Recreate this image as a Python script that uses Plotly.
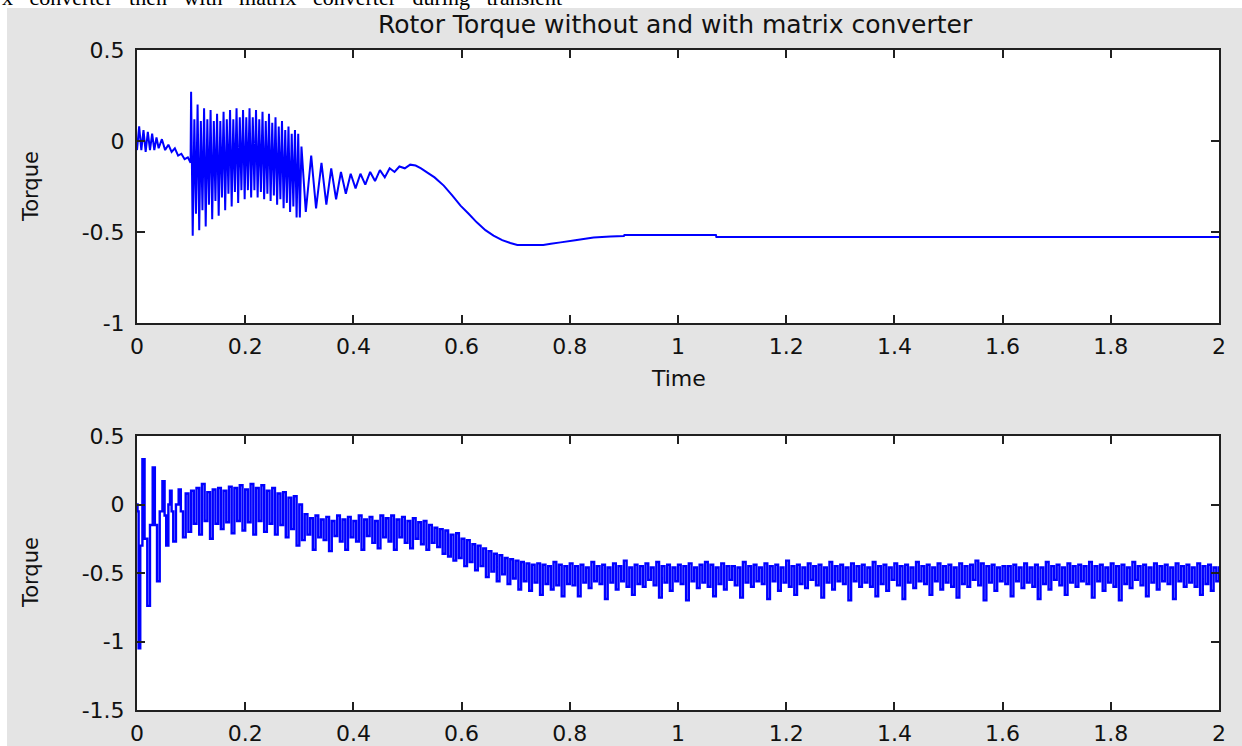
import plotly.graph_objects as go

W, H = 1242, 746

# ---------------- data ----------------
# upper plot: rotor torque without matrix converter
top_early_ms = [0, 4, 8, 12, 16, 20, 24, 28, 32, 36, 40, 46, 52, 58, 64, 70, 76, 82, 88, 94, 99]
top_early_val = [-0.05, 0.08, -0.05, 0.06, -0.06, 0.05, -0.05, 0.04, -0.05, 0.02, -0.04,
                 0.01, -0.05, -0.02, -0.06, -0.04, -0.08, -0.07, -0.10, -0.09, -0.12]

top_dense_start_ms = 100
top_dense_step_ms = 3
top_dense_val = [0.27, -0.52, 0.12, -0.40, 0.20, -0.49, 0.11, -0.38, 0.18, -0.47,
                 0.12, -0.35, 0.17, -0.43, 0.11, -0.33, 0.15, -0.41, 0.11, -0.31,
                 0.16, -0.38, 0.12, -0.29, 0.17, -0.36, 0.12, -0.28, 0.18, -0.34,
                 0.13, -0.27, 0.17, -0.32, 0.13, -0.27, 0.18, -0.31, 0.13, -0.27,
                 0.17, -0.31, 0.12, -0.28, 0.16, -0.32, 0.11, -0.29, 0.15, -0.33,
                 0.10, -0.30, 0.13, -0.35, 0.08, -0.32, 0.11, -0.37, 0.06, -0.34,
                 0.08, -0.39, 0.04, -0.36, 0.06, -0.42, 0.04]

top_late_ms = [301, 304, 312, 322, 331, 341, 350, 359, 368, 377,
               386, 395, 404, 413, 422, 431, 440, 449, 458, 467,
               476, 485, 495, 505, 515, 525, 536, 550, 567, 583,
               598, 613, 628, 644, 659, 675, 690, 703, 751, 765,
               783, 810, 844, 875, 900, 901, 1070, 1071, 2000]
top_late_val = [-0.42, -0.03, -0.39, -0.08, -0.37, -0.12, -0.35, -0.15, -0.32, -0.17,
                -0.29, -0.18, -0.26, -0.18, -0.24, -0.17, -0.22, -0.16, -0.20, -0.15,
                -0.17, -0.14, -0.15, -0.13, -0.135, -0.15, -0.172, -0.20, -0.245, -0.30,
                -0.355, -0.40, -0.447, -0.49, -0.52, -0.545, -0.56, -0.571, -0.571, -0.565,
                -0.557, -0.545, -0.53, -0.525, -0.522, -0.516, -0.516, -0.528, -0.528]

# lower plot: rotor torque with matrix converter
bot_early_ms = [0, 1, 3, 6, 10, 14, 19, 24, 29, 33, 37, 42, 47, 51, 54, 58, 61, 64, 67, 72, 77, 81, 85]
bot_early_val = [0.0, -0.05, -1.05, -0.30, 0.33, -0.25, -0.74, -0.15, 0.27, -0.15, -0.56,
                 -0.05, 0.17, -0.08, -0.30, 0.0, 0.10, -0.05, -0.27, 0.0, 0.11, -0.05, -0.24]

bot_dense_start_ms = 90
bot_dense_step_ms = 5
bot_dense_val = [
    # 0.09 - 0.30 s
    0.08, -0.20, 0.10, -0.14, 0.12, -0.22, 0.15, -0.12, 0.09, -0.25,
    0.11, -0.14, 0.12, -0.18, 0.10, -0.13, 0.13, -0.21, 0.12, -0.12,
    0.14, -0.19, 0.11, -0.13, 0.15, -0.22, 0.12, -0.12, 0.14, -0.20,
    0.10, -0.14, 0.12, -0.22, 0.08, -0.15, 0.09, -0.24, 0.05, -0.18,
    0.06, -0.30, 0.00,
    # 0.305 - 0.56 s
    -0.26, -0.07, -0.22, -0.10, -0.33, -0.08, -0.24, -0.11, -0.26, -0.09,
    -0.34, -0.12, -0.23, -0.08, -0.27, -0.11, -0.33, -0.09, -0.24, -0.12,
    -0.27, -0.08, -0.33, -0.11, -0.23, -0.09, -0.28, -0.12, -0.32, -0.08,
    -0.24, -0.10, -0.27, -0.08, -0.33, -0.11, -0.24, -0.09, -0.28, -0.12,
    -0.32, -0.10, -0.25, -0.13, -0.29, -0.12, -0.33, -0.15, -0.28, -0.17,
    -0.31, -0.18,
    # 0.565 - 0.80 s
    -0.36, -0.19, -0.38, -0.22, -0.41, -0.21, -0.39, -0.25, -0.45, -0.26,
    -0.42, -0.29, -0.48, -0.30, -0.45, -0.32, -0.53, -0.34, -0.49, -0.36,
    -0.56, -0.37, -0.51, -0.39, -0.58, -0.40, -0.54, -0.41, -0.62, -0.42,
    -0.56, -0.43, -0.63, -0.44, -0.57, -0.43, -0.66, -0.44, -0.58, -0.45,
    -0.62, -0.42, -0.59, -0.44, -0.67, -0.45, -0.58, -0.43,
    # 0.805 - 2.0 s
    -0.59, -0.45, -0.67, -0.44, -0.57, -0.46, -0.61, -0.42, -0.56, -0.45,
    -0.58, -0.44, -0.69, -0.46, -0.57, -0.43, -0.62, -0.45, -0.56, -0.41,
    -0.60, -0.46, -0.66, -0.44, -0.58, -0.45, -0.60, -0.43, -0.55, -0.46,
    -0.59, -0.42, -0.68, -0.45, -0.57, -0.44, -0.63, -0.46, -0.56, -0.44,
    -0.58, -0.45, -0.70, -0.43, -0.56, -0.46, -0.61, -0.44, -0.57, -0.42,
    -0.60, -0.44, -0.67, -0.46, -0.58, -0.43, -0.62, -0.45, -0.55, -0.45,
    -0.59, -0.46, -0.68, -0.42, -0.57, -0.45, -0.60, -0.44, -0.56, -0.46,
    -0.58, -0.43, -0.69, -0.45, -0.56, -0.44, -0.63, -0.46, -0.57, -0.41,
    -0.60, -0.45, -0.66, -0.44, -0.58, -0.46, -0.61, -0.43, -0.55, -0.45,
    -0.59, -0.44, -0.68, -0.46, -0.57, -0.42, -0.62, -0.45, -0.56, -0.44,
    -0.58, -0.46, -0.70, -0.43, -0.56, -0.45, -0.60, -0.44, -0.57, -0.46,
    -0.60, -0.42, -0.67, -0.45, -0.58, -0.44, -0.63, -0.46, -0.55, -0.43,
    -0.59, -0.45, -0.69, -0.44, -0.57, -0.46, -0.61, -0.42, -0.56, -0.45,
    -0.58, -0.44, -0.66, -0.46, -0.56, -0.43, -0.62, -0.45, -0.57, -0.44,
    -0.60, -0.46, -0.68, -0.43, -0.58, -0.45, -0.60, -0.44, -0.55, -0.41,
    -0.59, -0.43, -0.70, -0.45, -0.57, -0.44, -0.63, -0.46, -0.56, -0.45,
    -0.58, -0.45, -0.67, -0.44, -0.56, -0.46, -0.61, -0.43, -0.57, -0.46,
    -0.60, -0.44, -0.69, -0.46, -0.58, -0.42, -0.62, -0.45, -0.55, -0.44,
    -0.59, -0.46, -0.66, -0.43, -0.57, -0.45, -0.60, -0.44, -0.56, -0.45,
    -0.58, -0.42, -0.68, -0.45, -0.56, -0.44, -0.63, -0.46, -0.57, -0.43,
    -0.60, -0.45, -0.70, -0.44, -0.58, -0.46, -0.61, -0.42, -0.55, -0.45,
    -0.59, -0.44, -0.67, -0.46, -0.57, -0.43, -0.62, -0.45, -0.56, -0.44,
    -0.58, -0.46, -0.69, -0.43, -0.56, -0.45, -0.60, -0.44, -0.57, -0.46,
    -0.60, -0.43, -0.66, -0.45, -0.58, -0.44, -0.63, -0.46, -0.56, -0.45,
]

x_tick_vals = [0, 0.2, 0.4, 0.6, 0.8, 1, 1.2, 1.4, 1.6, 1.8, 2]
x_tick_text = ["0", "0.2", "0.4", "0.6", "0.8", "1", "1.2", "1.4", "1.6", "1.8", "2"]
top_y_ticks = [0.5, 0, -0.5, -1]
top_y_text = ["0.5", "0", "-0.5", "-1"]
bot_y_ticks = [0.5, 0, -0.5, -1, -1.5]
bot_y_text = ["0.5", "0", "-0.5", "-1", "-1.5"]

title_text = "Rotor Torque without and with matrix converter"
caption_text = "x converter then with matrix converter during transient"

# ---------------- assemble series ----------------
def dense_times(start_ms, step_ms, values):
    return [(start_ms + step_ms * i) / 1000.0 for i in range(len(values))]

top_t = ([m / 1000.0 for m in top_early_ms]
         + dense_times(top_dense_start_ms, top_dense_step_ms, top_dense_val)
         + [m / 1000.0 for m in top_late_ms])
top_v = top_early_val + top_dense_val + top_late_val

bot_t = ([m / 1000.0 for m in bot_early_ms]
         + dense_times(bot_dense_start_ms, bot_dense_step_ms, bot_dense_val))
bot_v = bot_early_val + bot_dense_val

# ---------------- figure ----------------
BLUE = "#0000ff"
GRAY = "#e4e4e4"
FONT = "DejaVu Sans"

fig = go.Figure()
fig.add_trace(go.Scatter(x=top_t, y=top_v, mode="lines",
                         line=dict(color=BLUE, width=2, simplify=False),
                         xaxis="x", yaxis="y", showlegend=False))
fig.add_trace(go.Scatter(x=bot_t, y=bot_v, mode="lines",
                         line=dict(color=BLUE, width=2.4, shape="hv", simplify=False),
                         xaxis="x2", yaxis="y2", showlegend=False))

def px_x(p):
    return p / W

def px_y(p):
    return 1 - p / H

axis_common = dict(showline=True, linecolor="#202020", linewidth=2,
                   mirror="ticks", ticks="inside", ticklen=8, tickwidth=1.5,
                   tickcolor="#202020", showgrid=False, zeroline=False,
                   tickfont=dict(family=FONT, size=22, color="#111111"))

x_dom = [px_x(137), px_x(1219)]

fig.update_layout(
    width=W, height=H,
    margin=dict(l=0, r=0, t=0, b=0, autoexpand=False),
    paper_bgcolor=GRAY, plot_bgcolor="white",
    showlegend=False,
    xaxis=dict(domain=x_dom, range=[0, 2], anchor="y",
               tickvals=x_tick_vals, ticktext=x_tick_text,
               ticklabelstandoff=3, **axis_common),
    yaxis=dict(domain=[px_y(323), px_y(50)], range=[-1, 0.5], anchor="x",
               tickvals=top_y_ticks, ticktext=top_y_text,
               ticklabelstandoff=6, **axis_common),
    xaxis2=dict(domain=x_dom, range=[0, 2], anchor="y2",
                tickvals=x_tick_vals, ticktext=x_tick_text,
                ticklabelstandoff=3, **axis_common),
    yaxis2=dict(domain=[px_y(710), px_y(436)], range=[-1.5, 0.5], anchor="x2",
                tickvals=bot_y_ticks, ticktext=bot_y_text,
                ticklabelstandoff=6, **axis_common),
    shapes=[
        dict(type="rect", xref="paper", yref="paper", x0=0, x1=1,
             y0=px_y(8), y1=1, fillcolor="white", line=dict(width=0), layer="above"),
        dict(type="rect", xref="paper", yref="paper", x0=0, x1=px_x(7),
             y0=0, y1=1, fillcolor="white", line=dict(width=0), layer="above"),
    ],
)

nb = "\u00a0\u00a0\u00a0"
cap = nb.join(caption_text.split(" "))

fig.add_annotation(x=px_x(675), y=px_y(24), xref="paper", yref="paper",
                   text=title_text, showarrow=False, xanchor="center", yanchor="middle",
                   font=dict(family=FONT, size=25, color="#111111"))
fig.add_annotation(x=px_x(678), y=px_y(378), xref="paper", yref="paper",
                   text="Time", showarrow=False, xanchor="center", yanchor="middle",
                   font=dict(family=FONT, size=22, color="#111111"))
fig.add_annotation(x=px_x(31), y=px_y(187), xref="paper", yref="paper",
                   text="Torque", showarrow=False, textangle=-90,
                   xanchor="center", yanchor="middle",
                   font=dict(family=FONT, size=21, color="#111111"))
fig.add_annotation(x=px_x(31), y=px_y(573), xref="paper", yref="paper",
                   text="Torque", showarrow=False, textangle=-90,
                   xanchor="center", yanchor="middle",
                   font=dict(family=FONT, size=21, color="#111111"))
fig.add_annotation(x=0, y=px_y(12), xref="paper", yref="paper",
                   text=cap, showarrow=False, xanchor="left", yanchor="bottom",
                   font=dict(family="Liberation Serif", size=22, color="black"))

fig.write_html("out.html")
